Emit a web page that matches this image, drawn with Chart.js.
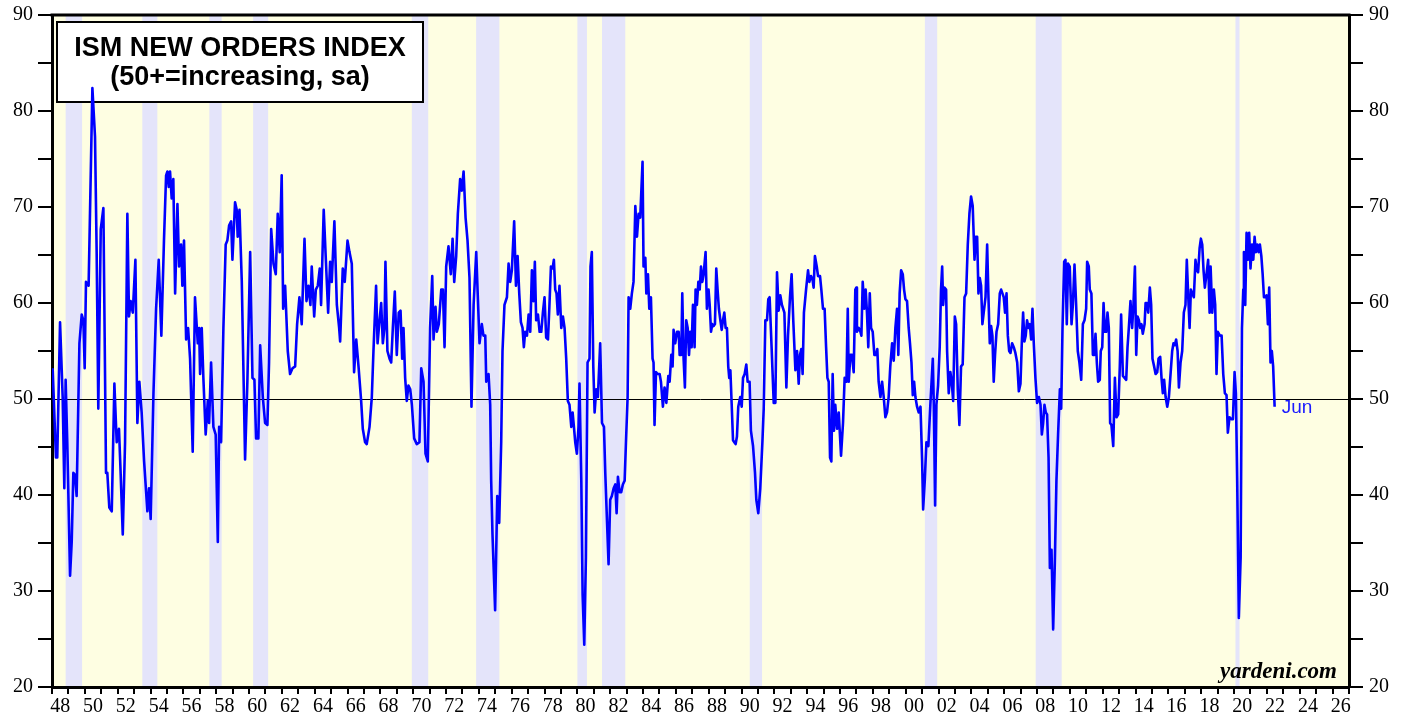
<!DOCTYPE html>
<html>
<head>
<meta charset="utf-8">
<script src="https://cdn.jsdelivr.net/npm/chart.js@4.4.1/dist/chart.umd.min.js"></script>
<style>
  html, body { margin: 0; padding: 0; background: #ffffff; }
  #chart { display: block; }
</style>
</head>
<body>
<canvas id="chart" width="1408" height="721"></canvas>
<script>
// ISM new orders index (decimal year, index value)
const dates48 = [1948.04,1948.24,1948.32,1948.49,1948.65,1948.75,1948.83,1948.93,1949.10,1949.20,1949.30,1949.40,1949.50,1949.67,1949.81,1949.91,1949.99,1950.07,1950.23,1950.46,1950.62,1950.72,1950.82,1950.97,1951.13,1951.29,1951.37,1951.49,1951.64,1951.80,1951.94,1952.08,1952.18,1952.31,1952.45,1952.59,1952.69,1952.79,1952.92,1953.08,1953.20,1953.32,1953.46,1953.61,1953.81,1953.91,1954.01,1954.18,1954.34,1954.50,1954.66,1954.82,1954.95,1955.03,1955.11,1955.19,1955.29,1955.39,1955.50,1955.64,1955.74,1955.86,1955.94,1956.04,1956.17,1956.29,1956.41,1956.57];
const orders48 = [53.2,43.9,43.9,58.0,50.2,40.7,52.0,45.5,31.6,35.1,42.3,42.1,39.9,55.8,58.8,58.2,53.2,62.2,61.8,82.4,77.3,65.3,49.0,67.7,69.9,42.3,42.3,38.7,38.3,51.6,45.5,46.9,42.3,35.9,45.5,69.3,58.6,60.2,59.0,64.5,47.5,51.8,48.6,43.5,38.3,40.7,37.5,50.6,59.4,64.5,56.6,66.5,73.3,73.7,72.1,73.7,70.9,72.9,61.0,70.3,63.8,66.1,61.8,66.5,56.2,57.4,54.2,44.5];

const dates56 = [1956.71,1956.88,1956.96,1957.02,1957.12,1957.22,1957.36,1957.49,1957.57,1957.69,1957.83,1957.97,1958.10,1958.18,1958.30,1958.44,1958.58,1958.68,1958.79,1958.91,1958.99,1959.15,1959.25,1959.31,1959.42,1959.56,1959.66,1959.76,1959.90,1960.07,1960.21,1960.33,1960.43,1960.57,1960.68,1960.84,1960.98,1961.12,1961.22,1961.35,1961.49,1961.63,1961.75,1961.87,1961.99,1962.08,1962.20,1962.36,1962.50,1962.65,1962.81,1962.93,1963.07,1963.21,1963.38,1963.50,1963.62,1963.74,1963.82,1963.97,1964.07,1964.19,1964.31,1964.39,1964.55,1964.68,1964.82,1964.94,1965.04,1965.20,1965.35,1965.49];
const orders56 = [60.6,55.8,57.4,52.6,57.4,52.2,46.3,49.8,47.5,53.8,47.1,46.3,35.1,47.1,45.5,57.4,66.1,66.5,68.1,68.5,64.5,70.5,69.7,66.9,69.7,62.2,53.0,43.7,51.8,65.3,52.2,52.0,45.9,45.9,55.6,50.2,47.5,47.3,53.8,67.7,64.1,63.0,69.3,65.3,73.3,59.4,61.8,55.0,52.6,53.2,53.4,57.8,60.6,57.8,66.7,60.2,61.8,59.8,63.8,58.6,61.4,61.8,63.6,59.8,69.7,64.5,59.0,64.3,62.2,68.5,59.8,57.4];

const dates65 = [1965.55,1965.71,1965.83,1966.00,1966.12,1966.26,1966.40,1966.53,1966.67,1966.83,1966.93,1967.07,1967.17,1967.34,1967.48,1967.58,1967.74,1967.83,1967.95,1968.05,1968.15,1968.25,1968.31,1968.43,1968.56,1968.66,1968.76,1968.88,1969.00,1969.12,1969.23,1969.33,1969.41,1969.51,1969.61,1969.71,1969.82,1969.92,1970.06,1970.22,1970.38,1970.49,1970.63,1970.75,1970.89,1971.03,1971.16,1971.24,1971.36,1971.44,1971.56,1971.71,1971.81,1971.91,1972.01,1972.15,1972.29,1972.40,1972.50,1972.62,1972.72,1972.86,1972.96,1973.07,1973.19,1973.31,1973.43,1973.55,1973.68,1973.84,1973.92,1974.04,1974.18,1974.28];
const orders65 = [56.0,63.6,62.2,66.5,65.3,64.1,52.8,56.2,53.4,49.8,46.9,45.5,45.3,47.1,50.2,55.0,61.8,55.8,58.2,60.0,55.8,57.4,64.3,55.0,54.2,53.8,57.4,61.2,54.6,59.0,59.2,54.2,57.4,52.2,49.8,51.4,51.0,49.4,45.9,45.3,45.5,53.2,51.8,44.3,43.5,57.4,62.8,56.2,59.6,57.0,57.8,61.4,61.4,55.4,63.8,65.9,63.0,66.7,62.2,64.9,69.3,72.9,71.7,73.7,68.9,66.5,62.6,49.2,59.8,65.3,61.4,55.8,57.8,56.6];

const dates74 = [1974.39,1974.45,1974.59,1974.69,1974.75,1974.83,1974.99,1975.12,1975.24,1975.36,1975.44,1975.56,1975.71,1975.81,1975.91,1976.01,1976.15,1976.26,1976.36,1976.46,1976.56,1976.66,1976.74,1976.82,1976.93,1977.03,1977.13,1977.23,1977.33,1977.41,1977.49,1977.60,1977.70,1977.80,1977.90,1978.00,1978.10,1978.21,1978.29,1978.39,1978.49,1978.57,1978.65,1978.73,1978.81,1978.91,1979.02,1979.12,1979.22,1979.32,1979.42,1979.52,1979.63,1979.71,1979.79,1979.87,1979.97,1980.07,1980.13,1980.24,1980.32,1980.42,1980.52,1980.62,1980.74,1980.80,1980.88,1980.97,1981.05,1981.15,1981.25,1981.39,1981.50,1981.62,1981.70,1981.80,1981.90,1982.00,1982.10,1982.21,1982.31,1982.39,1982.47,1982.57,1982.67,1982.77,1982.88,1982.96,1983.06,1983.12];
const orders74 = [56.6,51.8,52.6,49.4,41.5,35.9,28.0,39.9,37.1,45.5,55.0,59.8,60.6,64.1,62.2,63.4,68.5,61.8,64.9,61.0,58.0,57.4,55.4,57.0,56.6,58.8,57.0,63.4,60.2,64.3,58.2,58.8,57.0,57.0,59.0,60.6,56.4,56.2,59.4,63.8,63.6,64.5,61.4,61.0,58.8,61.8,57.4,58.6,57.4,54.2,49.8,49.4,47.1,48.6,47.1,45.5,44.3,47.1,51.6,41.5,29.6,24.4,33.5,53.8,54.2,63.8,65.3,53.4,48.6,51.0,50.2,55.8,47.5,47.1,42.3,37.5,32.8,39.5,39.9,40.7,41.1,38.1,41.9,40.3,40.3,41.1,41.5,45.5,50.2,60.6];

const dates83 = [1983.22,1983.32,1983.42,1983.53,1983.63,1983.73,1983.83,1983.97,1984.03,1984.14,1984.20,1984.30,1984.38,1984.48,1984.58,1984.64,1984.70,1984.79,1984.89,1985.01,1985.09,1985.21,1985.31,1985.42,1985.54,1985.62,1985.72,1985.80,1985.86,1985.96,1986.07,1986.17,1986.23,1986.33,1986.39,1986.47,1986.55,1986.63,1986.72,1986.80,1986.88,1986.96,1987.04,1987.14,1987.20,1987.28,1987.37,1987.45,1987.53,1987.61,1987.69,1987.81,1987.89,1987.99,1988.06,1988.14,1988.22,1988.30,1988.38,1988.46,1988.54,1988.62,1988.71,1988.79,1988.87,1988.95,1989.03,1989.11,1989.19,1989.25,1989.32,1989.40,1989.48,1989.56,1989.64,1989.72,1989.80,1989.92,1990.01,1990.09,1990.19,1990.29,1990.37,1990.49,1990.57,1990.70,1990.82,1990.90,1991.02,1991.14,1991.27,1991.35,1991.45,1991.55,1991.63,1991.71,1991.83,1991.96];
const orders83 = [59.4,61.0,62.2,70.1,66.9,69.3,68.9,74.7,63.8,64.7,61.0,63.0,59.4,60.6,54.2,53.8,47.3,52.8,52.6,52.6,51.8,49.2,51.2,49.6,52.4,51.8,54.6,53.4,57.2,55.8,57.0,57.0,54.6,54.6,61.0,54.2,51.2,58.2,57.4,54.6,57.0,55.4,59.8,55.4,61.4,59.8,62.2,61.4,63.8,62.2,63.0,65.3,59.4,61.4,59.8,57.0,57.8,57.6,57.8,63.6,61.4,59.4,58.2,57.2,58.2,59.0,57.4,57.4,53.4,52.2,53.0,49.4,45.7,45.5,45.3,46.1,49.2,50.2,49.2,52.2,52.6,53.6,51.8,51.8,46.7,45.1,42.3,39.5,38.1,40.7,45.5,49.0,58.2,58.2,60.4,60.6,55.4,49.6];

const dates92 = [1992.06,1992.16,1992.26,1992.36,1992.46,1992.61,1992.73,1992.83,1992.95,1993.05,1993.15,1993.28,1993.38,1993.48,1993.56,1993.64,1993.72,1993.80,1993.93,1994.05,1994.13,1994.23,1994.33,1994.39,1994.47,1994.58,1994.66,1994.78,1994.86,1994.96,1995.06,1995.15,1995.23,1995.31,1995.39,1995.47,1995.55,1995.63,1995.71,1995.82,1995.92,1996.06,1996.18,1996.28,1996.39,1996.47,1996.53,1996.63,1996.73,1996.83,1996.93,1996.99,1997.03,1997.14,1997.24,1997.30,1997.38,1997.48,1997.56,1997.64,1997.72,1997.81,1997.89,1997.99,1998.09,1998.19,1998.27,1998.35,1998.46,1998.56,1998.66,1998.76,1998.86,1998.96,1999.06,1999.17,1999.27,1999.37,1999.47,1999.55,1999.63,1999.72,1999.82,1999.90,1999.98,2000.08,2000.18,2000.26,2000.35,2000.43,2000.51,2000.59,2000.69,2000.79];
const orders92 = [49.6,63.2,59.2,60.8,59.8,59.0,51.2,56.6,60.6,63.0,58.2,53.0,55.0,51.6,54.6,55.2,52.6,59.0,61.4,63.4,62.2,62.8,62.4,61.6,64.9,63.8,62.8,62.8,61.4,59.4,59.4,55.4,52.2,51.8,43.9,43.5,52.6,46.7,49.4,46.9,48.6,44.1,47.5,52.2,51.8,59.4,51.8,54.6,54.6,52.8,61.4,61.6,57.0,57.4,57.0,56.6,62.2,59.4,61.4,59.0,55.4,61.0,57.4,57.0,54.6,54.6,55.2,51.8,50.2,51.8,50.2,48.1,48.6,50.2,53.4,55.8,54.0,57.4,59.4,54.6,61.0,63.4,63.0,61.4,60.4,60.2,57.4,55.8,53.8,50.4,51.8,50.2,49.2,48.6];

const dates00 = [2000.90,2001.00,2001.06,2001.16,2001.26,2001.38,2001.50,2001.65,2001.71,2001.79,2001.87,2001.97,2002.07,2002.15,2002.22,2002.28,2002.36,2002.46,2002.52,2002.62,2002.72,2002.80,2002.89,2002.99,2003.07,2003.17,2003.27,2003.37,2003.47,2003.58,2003.68,2003.78,2003.88,2003.98,2004.08,2004.19,2004.27,2004.35,2004.43,2004.51,2004.59,2004.67,2004.75,2004.86,2004.96,2005.04,2005.12,2005.20,2005.28,2005.36,2005.44,2005.53,2005.63,2005.73,2005.81,2005.89,2005.97,2006.05,2006.14,2006.22,2006.30,2006.38,2006.48,2006.58,2006.68,2006.79,2006.89,2006.99,2007.07,2007.15,2007.23,2007.31,2007.39,2007.48,2007.56,2007.64,2007.72,2007.80,2007.90,2008.00,2008.11,2008.21,2008.29,2008.37,2008.45,2008.53,2008.61,2008.70,2008.78,2008.88,2008.98,2009.08,2009.18,2009.28,2009.39,2009.47,2009.55,2009.65];
const orders00 = [49.2,43.5,38.5,41.5,45.5,45.1,49.4,54.2,49.4,38.9,49.4,51.4,55.4,61.4,63.8,59.8,61.6,61.4,55.0,50.6,52.8,51.8,49.8,58.6,57.8,51.0,47.3,53.4,53.6,60.6,61.0,66.1,69.3,71.1,70.1,64.5,66.9,66.9,61.0,62.6,61.8,57.8,59.0,60.6,66.1,60.6,55.8,57.6,56.6,51.8,54.6,57.0,57.8,61.0,61.4,61.0,60.6,59.0,61.0,56.6,55.0,54.8,55.8,55.4,54.8,53.8,50.8,51.6,55.8,59.0,56.0,56.6,58.2,57.4,57.8,56.2,59.4,55.8,52.2,49.6,50.2,49.4,46.3,47.5,49.4,48.6,48.4,43.9,32.4,34.3,26.0,32.8,41.5,46.3,51.0,49.0,57.4,64.3];

const dates09 = [2009.73,2009.81,2009.89,2009.99,2010.10,2010.18,2010.28,2010.38,2010.48,2010.58,2010.69,2010.79,2010.89,2010.99,2011.05,2011.15,2011.21,2011.31,2011.40,2011.48,2011.56,2011.64,2011.72,2011.82,2011.88,2011.97,2012.05,2012.13,2012.21,2012.29,2012.37,2012.45,2012.53,2012.64,2012.74,2012.84,2012.94,2013.04,2013.12,2013.23,2013.33,2013.43,2013.51,2013.59,2013.69,2013.79,2013.87,2013.96,2014.04,2014.12,2014.20,2014.28,2014.36,2014.44,2014.55,2014.61,2014.69,2014.77,2014.87,2014.95,2015.03,2015.13,2015.22,2015.32,2015.40,2015.50,2015.58,2015.66,2015.74,2015.83,2015.93,2016.03,2016.13,2016.23,2016.31,2016.39,2016.47,2016.56,2016.64,2016.74,2016.84,2016.94,2017.04,2017.12,2017.21,2017.29,2017.37,2017.45,2017.55,2017.65,2017.73,2017.81,2017.90,2017.98,2018.06,2018.14,2018.22,2018.32,2018.42,2018.51];
const orders09 = [64.5,57.8,64.1,63.8,57.8,59.8,64.0,59.8,55.0,53.8,52.0,57.8,58.2,59.4,64.3,63.8,61.4,61.0,54.6,54.6,56.8,53.8,51.8,52.0,55.0,55.4,60.0,57.0,57.0,59.0,57.4,47.5,47.3,45.1,52.2,48.1,48.4,53.4,58.8,52.4,52.2,52.0,55.4,57.4,60.2,57.4,59.8,63.8,54.6,58.6,58.2,57.4,57.8,56.8,57.8,60.0,60.0,59.0,61.6,59.8,54.2,53.4,52.6,52.8,54.2,54.4,52.2,50.6,52.0,50.2,49.2,50.2,52.6,55.0,55.8,55.6,56.2,55.0,51.2,53.8,55.0,59.0,59.8,64.5,60.6,57.4,61.4,61.0,60.6,64.5,63.4,63.2,65.7,66.7,66.1,63.4,61.6,63.0,64.5,59.0];

const dates18 = [2018.57,2018.67,2018.77,2018.85,2018.93,2019.01,2019.14,2019.24,2019.34,2019.44,2019.54,2019.62,2019.72,2019.83,2019.93,2020.03,2020.11,2020.19,2020.29,2020.40,2020.48,2020.56,2020.60,2020.68,2020.76,2020.84,2020.92,2021.00,2021.09,2021.17,2021.25,2021.33,2021.41,2021.49,2021.57,2021.66,2021.74,2021.82,2021.90,2021.98,2022.06,2022.14,2022.22,2022.30,2022.38,2022.47];
const orders18 = [63.8,59.0,61.4,59.8,52.6,57.0,56.6,56.6,52.6,50.6,50.4,46.5,48.1,47.9,47.9,52.8,50.6,41.5,27.2,33.5,57.4,61.4,65.3,59.8,67.3,64.5,67.3,63.6,66.1,64.5,66.9,65.3,66.1,65.3,66.1,64.9,63.0,60.6,60.6,60.8,57.8,61.6,53.8,55.0,53.4,49.2];

// NBER recessions: [start year, start month, end year, end month]
const recessions = [
    [1948, 11, 1949, 10], [1953, 7, 1954, 5], [1957, 8, 1958, 4], [1960, 4, 1961, 2],
    [1969, 12, 1970, 11], [1973, 11, 1975, 3], [1980, 1, 1980, 7], [1981, 7, 1982, 11],
    [1990, 7, 1991, 3], [2001, 3, 2001, 11], [2007, 12, 2009, 6], [2020, 2, 2020, 4]
];

const titleLines = ['ISM NEW ORDERS INDEX', '(50+=increasing, sa)'];
const lastLabel = 'Jun';
const sourceLabel = 'yardeni.com';

const allDates = [].concat(dates48, dates56, dates65, dates74, dates83, dates92, dates00, dates09, dates18);
const allOrders = [].concat(orders48, orders56, orders65, orders74, orders83, orders92, orders00, orders09, orders18);
const points = allDates.map((d, i) => ({ x: d, y: allOrders[i] }));

const serif = '"Liberation Serif", "Times New Roman", serif';
const sans = '"Liberation Sans", Arial, sans-serif';

// Background, recession shading, 50 line and the title box
const backdrop = {
    id: 'backdrop',
    beforeDraw(chart) {
        const { ctx, chartArea: a, scales } = chart;
        ctx.save();
        ctx.fillStyle = '#fefee2';
        ctx.fillRect(a.left, a.top, a.right - a.left, a.bottom - a.top);
        ctx.fillStyle = '#e4e4fa';
        recessions.forEach(r => {
            const x0 = scales.x.getPixelForValue(r[0] + (r[1] - 1) / 12);
            const x1 = scales.x.getPixelForValue(r[2] + r[3] / 12);
            ctx.fillRect(x0, a.top, x1 - x0, a.bottom - a.top);
        });
        ctx.restore();
    },
    beforeDatasetsDraw(chart) {
        const { ctx, chartArea: a, scales } = chart;
        ctx.save();
        const y50 = Math.round(scales.y.getPixelForValue(50)) + 0.5;
        ctx.strokeStyle = '#000';
        ctx.lineWidth = 1;
        ctx.beginPath();
        ctx.moveTo(a.left, y50);
        ctx.lineTo(a.right, y50);
        ctx.stroke();

        // title box
        const bx = a.left + 5, by = a.top + 7, bw = 366, bh = 80;
        ctx.fillStyle = '#fff';
        ctx.fillRect(bx, by, bw, bh);
        ctx.lineWidth = 2;
        ctx.strokeRect(bx, by, bw, bh);
        ctx.fillStyle = '#000';
        ctx.font = 'bold 27px ' + sans;
        ctx.textAlign = 'center';
        ctx.textBaseline = 'middle';
        ctx.fillText(titleLines[0], bx + bw / 2, by + 27);
        ctx.fillText(titleLines[1], bx + bw / 2, by + 56);
        ctx.restore();
    },
    afterDraw(chart) {
        const { ctx, chartArea: a, scales } = chart;
        ctx.save();
        ctx.strokeStyle = '#000';
        ctx.lineWidth = 3;
        ctx.beginPath();
        ctx.moveTo(a.left - 1.5, a.top);
        ctx.lineTo(a.right + 1.5, a.top);
        ctx.stroke();

        // last month label
        const lx = scales.x.getPixelForValue(allDates[allDates.length - 1]);
        const ly = scales.y.getPixelForValue(allOrders[allOrders.length - 1]);
        ctx.fillStyle = '#1a1aff';
        ctx.font = '19px ' + sans;
        ctx.textAlign = 'left';
        ctx.textBaseline = 'middle';
        ctx.fillText(lastLabel, lx + 7, ly + 1);

        // source
        ctx.fillStyle = '#000';
        ctx.font = 'italic bold 23px ' + serif;
        ctx.textAlign = 'right';
        ctx.textBaseline = 'alphabetic';
        ctx.fillText(sourceLabel, a.right - 12, a.bottom - 9);
        ctx.restore();
    }
};

const yTickLabel = v => (v % 10 === 0 ? String(v) : '');

new Chart(document.getElementById('chart'), {
    type: 'line',
    data: {
        datasets: [{
            data: points,
            borderColor: '#0000ff',
            borderWidth: 2.6,
            borderJoinStyle: 'round',
            pointRadius: 0,
            tension: 0,
            fill: false
        }]
    },
    options: {
        responsive: false,
        devicePixelRatio: 1,
        animation: false,
        layout: { padding: { top: 15, left: 0, right: 0, bottom: 0 } },
        plugins: { legend: { display: false }, tooltip: { enabled: false } },
        scales: {
            x: {
                type: 'linear',
                min: 1948,
                max: 2027,
                afterFit: s => { s.height = 34; },
                border: { display: true, color: '#000', width: 3 },
                grid: { drawOnChartArea: false, drawTicks: true, tickLength: 7, color: '#000', lineWidth: 2 },
                ticks: {
                    stepSize: 1,
                    maxTicksLimit: 100,
                    autoSkip: false,
                    maxRotation: 0,
                    labelOffset: 8.2,
                    padding: 1,
                    color: '#000',
                    font: { family: serif, size: 20 },
                    callback: v => (v % 2 === 0 ? String(v % 100).padStart(2, '0') : '')
                }
            },
            y: {
                position: 'left',
                min: 20,
                max: 90,
                afterFit: s => { s.width = 52; s.paddingTop = 0; },
                border: { display: true, color: '#000', width: 3 },
                grid: { drawOnChartArea: false, drawTicks: true, tickLength: 14, color: '#000', lineWidth: 2 },
                ticks: { stepSize: 5, padding: 5, color: '#000', font: { family: serif, size: 20, lineHeight: 1 }, callback: yTickLabel }
            },
            y2: {
                position: 'right',
                min: 20,
                max: 90,
                afterFit: s => { s.width = 59; s.paddingTop = 0; },
                border: { display: true, color: '#000', width: 3 },
                grid: { drawOnChartArea: false, drawTicks: true, tickLength: 14, color: '#000', lineWidth: 2 },
                ticks: { stepSize: 5, padding: 6, color: '#000', font: { family: serif, size: 20, lineHeight: 1 }, callback: yTickLabel }
            }
        }
    },
    plugins: [backdrop]
});
</script>
</body>
</html>
